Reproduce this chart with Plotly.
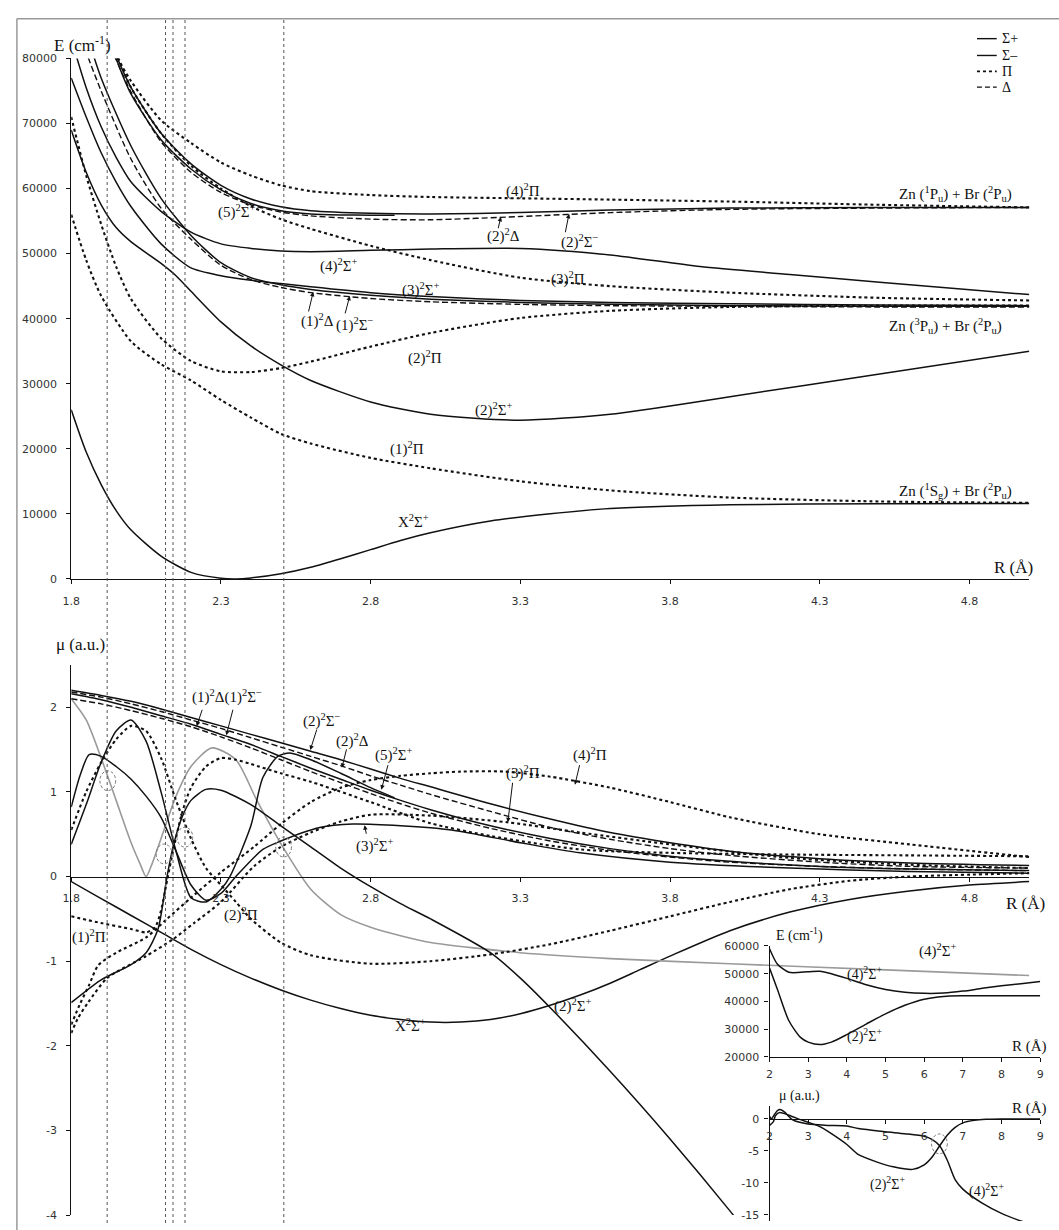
import plotly.graph_objects as go

W, H = 1059, 1230

def P(x, y):
    return x / W, 1 - y / H

# ================= DATA: upper panel, E (cm-1) vs R (Å) =================
R_X = [1.8, 1.85, 1.9, 1.95, 2.0, 2.1, 2.2, 2.3, 2.35, 2.4, 2.5, 2.6, 2.7, 2.8, 2.9, 3.0, 3.2, 3.4, 3.6, 4.0, 4.5, 5.0]
E_X = [26000, 19500, 14500, 10500, 7500, 3500, 1000, 100, 0, 150, 800, 1800, 3100, 4500, 5900, 7100, 8900, 10000, 10800, 11400, 11550, 11600]

R_1PI = [1.8, 1.85, 1.9, 2.0, 2.1, 2.2, 2.3, 2.4, 2.5, 2.6, 2.8, 3.0, 3.3, 3.6, 4.0, 4.5, 5.0]
E_1PI = [56000, 49000, 43500, 36500, 33000, 30500, 27500, 24800, 22300, 20800, 18600, 17000, 15000, 13600, 12500, 11900, 11700]

R_2PI = [1.8, 1.85, 1.9, 1.95, 2.0, 2.1, 2.2, 2.3, 2.4, 2.5, 2.6, 2.8, 3.0, 3.3, 3.6, 4.0, 4.5, 5.0]
E_2PI = [71000, 62000, 54500, 48000, 43000, 37000, 33500, 31900, 31800, 32400, 33400, 35700, 37800, 40100, 41200, 41800, 42000, 42000]

R_2SP = [1.8, 1.85, 1.9, 1.95, 2.0, 2.1, 2.15, 2.2, 2.3, 2.4, 2.5, 2.6, 2.8, 3.0, 3.3, 3.6, 4.0, 4.5, 5.0]
E_2SP = [69000, 62500, 57500, 54000, 51800, 48500, 46600, 44200, 39500, 35800, 32900, 30500, 27200, 25300, 24400, 25300, 28000, 31500, 35000]

R_3SP = [1.8, 1.85, 1.9, 1.95, 2.0, 2.1, 2.2, 2.3, 2.4, 2.5, 2.6, 2.8, 3.0, 3.3, 3.6, 4.0, 4.5, 5.0]
E_3SP = [77000, 71000, 65500, 61000, 57200, 51500, 47800, 46600, 45900, 45400, 44900, 44000, 43400, 42800, 42500, 42300, 42100, 42000]

R_4SP = [1.8, 1.85, 1.9, 1.95, 2.0, 2.1, 2.2, 2.3, 2.4, 2.5, 2.6, 2.8, 3.0, 3.3, 3.6, 3.9, 4.2, 4.5, 5.0]
E_4SP = [83000, 75500, 69500, 64800, 61000, 56500, 53300, 51500, 50800, 50400, 50300, 50500, 50700, 50800, 49800, 48000, 46800, 45600, 43700]

R_1SM = [1.85, 1.9, 2.0, 2.1, 2.2, 2.3, 2.4, 2.5, 2.6, 2.8, 3.0, 3.3, 3.6, 4.0, 4.5, 5.0]
E_1SM = [84000, 77000, 66500, 58500, 52800, 48600, 46300, 45200, 44500, 43600, 43000, 42500, 42200, 42000, 41900, 41900]

R_1D = [1.8, 1.85, 1.9, 2.0, 2.1, 2.2, 2.3, 2.4, 2.5, 2.6, 2.8, 3.0, 3.3, 3.6, 4.0, 4.5, 5.0]
E_1D = [88000, 81000, 75000, 64500, 57000, 52200, 48200, 46000, 44800, 44000, 43100, 42600, 42200, 42000, 41900, 41800, 41800]

R_5SP = [1.9, 1.95, 2.0, 2.1, 2.2, 2.3, 2.4, 2.5, 2.6, 2.7, 2.8, 2.88]
E_5SP = [87000, 80000, 74500, 67500, 63000, 59800, 57700, 56600, 56100, 55950, 55900, 55900]

R_2SM = [1.9, 1.95, 2.0, 2.1, 2.2, 2.3, 2.4, 2.5, 2.6, 2.8, 3.0, 3.3, 3.6, 4.0, 4.5, 5.0]
E_2SM = [86500, 80500, 75500, 68500, 63800, 60500, 58400, 57200, 56600, 56200, 56100, 56300, 56700, 57000, 57100, 57100]

R_2D = [1.9, 1.95, 2.0, 2.1, 2.2, 2.3, 2.4, 2.5, 2.6, 2.8, 3.0, 3.3, 3.6, 4.0, 4.5, 5.0]
E_2D = [85500, 79800, 74800, 67200, 62500, 59400, 57500, 56400, 55800, 55300, 55200, 55700, 56300, 56800, 57000, 57100]

R_3PI = [1.9, 1.95, 2.0, 2.1, 2.2, 2.3, 2.4, 2.5, 2.6, 2.8, 3.0, 3.3, 3.6, 4.0, 4.5, 5.0]
E_3PI = [88000, 81000, 75500, 68500, 63500, 60000, 57300, 55300, 53800, 51200, 49000, 46300, 45000, 44000, 43200, 42800]

R_4PI = [1.9, 1.95, 2.0, 2.1, 2.2, 2.3, 2.4, 2.5, 2.6, 2.8, 3.0, 3.3, 3.6, 4.0, 4.5, 5.0]
E_4PI = [86000, 80500, 76500, 70500, 67000, 64000, 62000, 60500, 59600, 59000, 58700, 58500, 58300, 58000, 57500, 57100]

# ================= DATA: lower panel, mu (a.u.) vs R (Å) =================
R_M2SM = [1.8, 1.9, 2.0, 2.1, 2.2, 2.3, 2.4, 2.5, 2.6, 2.7, 2.8, 2.9, 3.0, 3.2, 3.4, 3.6, 3.8, 4.0, 4.3, 4.6, 5.0]
M_2SM = [2.2, 2.14, 2.07, 1.98, 1.88, 1.78, 1.68, 1.58, 1.48, 1.38, 1.27, 1.16, 1.06, 0.86, 0.68, 0.52, 0.4, 0.3, 0.21, 0.16, 0.13]
M_2D = [2.18, 2.12, 2.04, 1.95, 1.85, 1.75, 1.64, 1.53, 1.42, 1.31, 1.19, 1.08, 0.97, 0.77, 0.58, 0.44, 0.33, 0.25, 0.17, 0.12, 0.1]
M_1SM = [2.16, 2.09, 2.0, 1.9, 1.8, 1.68, 1.56, 1.42, 1.28, 1.15, 1.02, 0.9, 0.79, 0.6, 0.45, 0.33, 0.24, 0.18, 0.12, 0.09, 0.07]
M_1D = [2.1, 2.04, 1.96, 1.87, 1.77, 1.65, 1.52, 1.38, 1.24, 1.11, 0.98, 0.86, 0.75, 0.57, 0.42, 0.31, 0.23, 0.17, 0.12, 0.09, 0.07]

R_M5SP = [1.8, 1.85, 1.9, 1.95, 2.0, 2.05, 2.1, 2.15, 2.2, 2.25, 2.3, 2.33, 2.4, 2.44, 2.49, 2.53, 2.6, 2.7, 2.8, 2.88]
M_5SP = [0.38, 0.85, 1.35, 1.72, 1.85, 1.6, 1.0, 0.3, -0.25, -0.3, -0.15, 0.0, 0.6, 1.17, 1.42, 1.46, 1.38, 1.22, 1.05, 0.93]

R_M3SP = [1.8, 1.83, 1.86, 1.9, 1.95, 2.0, 2.05, 2.1, 2.15, 2.2, 2.25, 2.3, 2.35, 2.44, 2.5, 2.63, 2.74, 2.9, 3.07, 3.3, 3.5, 3.8, 4.2, 4.6, 5.0]
M_3SP = [0.82, 1.2, 1.44, 1.42, 1.3, 1.15, 0.95, 0.7, 0.3, -0.1, -0.28, -0.2, 0.0, 0.32, 0.42, 0.58, 0.62, 0.6, 0.55, 0.4, 0.28, 0.17, 0.1, 0.06, 0.04]

R_M2SP = [1.8, 1.9, 2.0, 2.05, 2.09, 2.12, 2.14, 2.17, 2.2, 2.25, 2.3, 2.4, 2.5, 2.6, 2.7, 2.8, 2.9, 3.0, 3.2, 3.3, 3.4, 3.6, 3.8, 4.0, 4.1]
M_2SP = [-1.49, -1.22, -1.04, -0.9, -0.62, 0.0, 0.35, 0.7, 0.9, 1.03, 1.02, 0.85, 0.6, 0.35, 0.1, -0.12, -0.32, -0.5, -0.9, -1.2, -1.55, -2.3, -3.1, -3.95, -4.4]

R_MX = [1.8, 1.9, 2.0, 2.1, 2.2, 2.3, 2.4, 2.5, 2.6, 2.7, 2.8, 2.9, 3.0, 3.1, 3.2, 3.3, 3.4, 3.5, 3.6, 3.7, 3.8, 4.0, 4.2, 4.4, 4.6, 4.8, 5.0]
M_X = [-0.06, -0.26, -0.46, -0.66, -0.86, -1.04, -1.2, -1.34, -1.46, -1.56, -1.64, -1.69, -1.72, -1.72, -1.69, -1.62, -1.52, -1.4, -1.26, -1.1, -0.94, -0.64, -0.42, -0.27, -0.17, -0.1, -0.06]

R_M4SP = [1.8, 1.85, 1.9, 1.95, 2.0, 2.03, 2.05, 2.07, 2.1, 2.15, 2.2, 2.27, 2.35, 2.42, 2.51, 2.6, 2.7, 2.8, 2.9, 3.0, 3.3, 3.6, 4.0, 4.5, 5.0]
M_4SP = [2.1, 1.85, 1.4, 0.9, 0.4, 0.15, 0.0, 0.15, 0.45, 0.95, 1.3, 1.52, 1.38, 0.9, 0.33, -0.15, -0.45, -0.6, -0.7, -0.78, -0.9, -0.97, -1.03, -1.1, -1.17]

R_M1PI = [1.8, 1.9, 2.0, 2.05, 2.08, 2.1, 2.12, 2.14, 2.17, 2.2, 2.25, 2.3, 2.35, 2.4, 2.5, 2.6, 2.8, 3.0, 3.2, 3.5, 3.8, 4.2, 4.6, 5.0]
M_1PI = [-0.47, -0.55, -0.62, -0.66, -0.6, -0.4, -0.05, 0.3, 0.75, 1.05, 1.3, 1.4, 1.38, 1.33, 1.22, 1.12, 0.88, 0.63, 0.48, 0.32, 0.28, 0.26, 0.25, 0.24]

R_M2PI = [1.8, 1.85, 1.9, 1.95, 2.0, 2.05, 2.1, 2.15, 2.2, 2.25, 2.3, 2.35, 2.4, 2.5, 2.6, 2.8, 3.0, 3.2, 3.4, 3.6, 3.8, 4.0, 4.2, 4.4, 4.6, 5.0]
M_2PI = [0.55, 1.0, 1.35, 1.62, 1.78, 1.72, 1.4, 0.9, 0.45, 0.1, -0.1, -0.3, -0.5, -0.78, -0.93, -1.03, -1.0, -0.92, -0.8, -0.64, -0.47, -0.3, -0.15, -0.05, 0.0, 0.04]

R_M4PI = [1.8, 1.83, 1.86, 1.89, 1.95, 2.05, 2.12, 2.2, 2.3, 2.41, 2.5, 2.6, 2.7, 2.8, 2.9, 3.0, 3.1, 3.25, 3.4, 3.6, 3.8, 4.0, 4.3, 4.6, 5.0]
M_4PI = [-1.75, -1.5, -1.28, -1.05, -0.9, -0.72, -0.5, -0.25, 0.05, 0.35, 0.62, 0.88, 1.05, 1.14, 1.19, 1.22, 1.24, 1.24, 1.18, 1.05, 0.88, 0.7, 0.5, 0.38, 0.23]

R_M3PI = [1.8, 1.823, 1.856, 1.92, 2.05, 2.14, 2.21, 2.3, 2.41, 2.5, 2.6, 2.7, 2.8, 3.0, 3.26, 3.5, 3.8, 4.2, 4.6, 5.0]
M_3PI = [-1.85, -1.67, -1.49, -1.2, -0.94, -0.74, -0.55, -0.3, 0.12, 0.35, 0.52, 0.65, 0.73, 0.72, 0.64, 0.52, 0.38, 0.22, 0.14, 0.1]

# ================= DATA: insets (R 2–9 Å) =================
RI_E4 = [2.0, 2.2, 2.5, 3.0, 3.3, 3.6, 4.0, 4.5, 5.0, 5.5, 6.0, 6.5, 7.0, 7.5, 8.0, 8.5, 9.0]
EI_4 = [59000, 53500, 50500, 50700, 50900, 50000, 48300, 46000, 44300, 43300, 42900, 43000, 43700, 44700, 45600, 46400, 47200]
RI_E2 = [2.0, 2.2, 2.5, 2.8, 3.0, 3.3, 3.6, 4.0, 4.5, 5.0, 5.5, 6.0, 6.5, 7.0, 8.0, 9.0]
EI_2 = [52000, 44500, 33000, 27000, 25300, 24400, 25300, 28000, 31800, 35500, 38600, 40800, 41800, 42000, 42000, 42000]

RI_M2 = [2.0, 2.1, 2.15, 2.25, 2.5, 2.8, 3.0, 3.3, 3.6, 4.0, 4.3, 4.8, 5.2, 5.7, 6.0, 6.2, 6.4, 6.6, 6.8, 7.0, 7.3, 7.6, 8.0, 9.0]
MI_2 = [-1.0, -0.4, 0.5, 1.0, 0.6, -0.1, -0.5, -1.2, -2.3, -4.0, -5.6, -6.8, -7.5, -7.9, -7.2, -6.0, -4.2, -2.5, -1.3, -0.6, -0.2, -0.05, 0.0, 0.0]
RI_M4 = [2.0, 2.05, 2.1, 2.2, 2.27, 2.4, 2.5, 2.6, 3.0, 3.5, 4.0, 4.3, 5.0, 5.5, 6.0, 6.2, 6.4, 6.6, 6.8, 7.0, 7.5, 8.0, 8.5, 9.0]
MI_4 = [0.4, 0.0, 0.45, 1.3, 1.5, 1.05, 0.4, -0.15, -0.8, -1.0, -1.1, -1.5, -2.0, -2.3, -2.7, -3.2, -4.2, -6.5, -9.5, -11.0, -13.2, -14.8, -16.0, -17.0]

CROSS_R = [1.92, 2.115, 2.14, 2.18, 2.51]

X_TICKS = [1.8, 2.3, 2.8, 3.3, 3.8, 4.3, 4.8]
XI_TICKS = [2, 3, 4, 5, 6, 7, 8, 9]
MU_TICKS = [-4, -3, -2, -1, 0, 1, 2]
MUI_TICKS = [-15, -10, -5, 0]

# ================= FIGURE =================
BLK = "#111111"
GRY = "#9a9a9a"
SOL = dict(color=BLK, width=1.5)
DOT = dict(color=BLK, width=2.1, dash="dot")
DSH = dict(color=BLK, width=1.4, dash="6px,3px")

fig = go.Figure()

def add(x, y, line, xa, ya, name):
    fig.add_trace(go.Scatter(x=x, y=y, mode="lines", line=dict(shape="spline", smoothing=0.7, **line),
                             xaxis=xa, yaxis=ya, name=name, showlegend=False, hoverinfo="skip"))

# upper panel
add(R_X, E_X, SOL, "x", "y", "X2S+")
add(R_1PI, E_1PI, DOT, "x", "y", "(1)2Pi")
add(R_2PI, E_2PI, DOT, "x", "y", "(2)2Pi")
add(R_2SP, E_2SP, SOL, "x", "y", "(2)2S+")
add(R_3SP, E_3SP, SOL, "x", "y", "(3)2S+")
add(R_4SP, E_4SP, SOL, "x", "y", "(4)2S+")
add(R_1SM, E_1SM, SOL, "x", "y", "(1)2S-")
add(R_1D, E_1D, DSH, "x", "y", "(1)2D")
add(R_5SP, E_5SP, SOL, "x", "y", "(5)2S+")
add(R_2SM, E_2SM, SOL, "x", "y", "(2)2S-")
add(R_2D, E_2D, DSH, "x", "y", "(2)2D")
add(R_3PI, E_3PI, DOT, "x", "y", "(3)2Pi")
add(R_4PI, E_4PI, DOT, "x", "y", "(4)2Pi")

# lower panel
add(R_MX, M_X, SOL, "x2", "y2", "X2S+")
add(R_M4SP, M_4SP, dict(color=GRY, width=1.6), "x2", "y2", "(4)2S+")
add(R_M2SM, M_2SM, SOL, "x2", "y2", "(2)2S-")
add(R_M2SM, M_2D, DSH, "x2", "y2", "(2)2D")
add(R_M2SM, M_1SM, SOL, "x2", "y2", "(1)2S-")
add(R_M2SM, M_1D, DSH, "x2", "y2", "(1)2D")
add(R_M5SP, M_5SP, SOL, "x2", "y2", "(5)2S+")
add(R_M3SP, M_3SP, SOL, "x2", "y2", "(3)2S+")
add(R_M2SP, M_2SP, SOL, "x2", "y2", "(2)2S+")
add(R_M1PI, M_1PI, DOT, "x2", "y2", "(1)2Pi")
add(R_M2PI, M_2PI, DOT, "x2", "y2", "(2)2Pi")
add(R_M4PI, M_4PI, DOT, "x2", "y2", "(4)2Pi")
add(R_M3PI, M_3PI, DOT, "x2", "y2", "(3)2Pi")

# insets
add(RI_E4, EI_4, SOL, "x3", "y3", "(4)2S+")
add(RI_E2, EI_2, SOL, "x3", "y3", "(2)2S+")
add(RI_M2, MI_2, SOL, "x4", "y4", "(2)2S+")
add(RI_M4, MI_4, SOL, "x4", "y4", "(4)2S+")

TICKF = dict(family="DejaVu Sans", size=11, color="#333333")
AX = dict(showline=True, linecolor=BLK, linewidth=1.2, ticks="outside", ticklen=4, tickcolor=BLK,
          showgrid=False, zeroline=False, tickfont=TICKF)

xd = [63 / W, 1033 / W]
xid = [770 / W, 1044 / W]

fig.update_layout(
    width=W, height=H, margin=dict(l=0, r=0, t=0, b=0), autosize=False,
    paper_bgcolor="white", plot_bgcolor="rgba(0,0,0,0)", showlegend=False,
    xaxis=dict(domain=xd, range=[1.8, 5.0], tickvals=X_TICKS, ticktext=[f"{v:.1f}" for v in X_TICKS],
               anchor="y", ticklabelstandoff=8, **AX),
    yaxis=dict(domain=[1 - 579 / H, 1 - 53 / H], range=[0, 80000], dtick=10000, tickformat="d",
               anchor="x", ticklabelstandoff=7, **AX),
    xaxis2=dict(domain=xd, range=[1.8, 5.0], tickvals=X_TICKS, ticktext=[f"{v:.1f}" for v in X_TICKS],
                anchor="free", position=1 - 880 / H, ticklabelstandoff=7, **AX),
    yaxis2=dict(domain=[1 - 1222 / H, 1 - 666 / H], range=[-4, 2.5], tickvals=MU_TICKS,
                ticktext=[str(v) for v in MU_TICKS], anchor="x2", ticklabelstandoff=7, **AX),
    xaxis3=dict(domain=xid, range=[2, 9], tickvals=XI_TICKS, anchor="y3", ticklabelstandoff=3, **AX),
    yaxis3=dict(domain=[1 - 1062 / H, 1 - 950 / H], range=[20000, 60000], dtick=10000, tickformat="d",
                anchor="x3", ticklabelstandoff=3, **AX),
    xaxis4=dict(domain=xid, range=[2, 9], tickvals=XI_TICKS, anchor="free", position=1 - 1125 / H,
                ticklabelstandoff=3, **AX),
    yaxis4=dict(domain=[1 - 1228 / H, 1 - 1112 / H], range=[-16, 2], tickvals=MUI_TICKS,
                ticktext=[str(v) for v in MUI_TICKS], anchor="x4", ticklabelstandoff=3, **AX),
)

shapes = []
# frame (left & top)
shapes.append(dict(type="line", xref="paper", yref="paper", x0=8 / W, x1=1.01, y0=1 - 13 / H, y1=1 - 13 / H,
                   line=dict(color="#999999", width=1.5)))
shapes.append(dict(type="line", xref="paper", yref="paper", x0=8 / W, x1=8 / W, y0=-0.01, y1=1 - 13 / H,
                   line=dict(color="#999999", width=1.5)))
# crossing verticals
for r in CROSS_R:
    shapes.append(dict(type="line", xref="x", yref="paper", x0=r, x1=r, y0=0, y1=1 - 13 / H,
                       line=dict(color="#555555", width=1, dash="3px,3px")))
# dashed crossing circles
for cx, cy in [(100, 783), (157, 857), (178, 840), (278, 850), (942, 1150)]:
    x0, y0 = P(cx - 8, cy - 10)
    x1, y1 = P(cx + 8, cy + 10)
    shapes.append(dict(type="circle", xref="paper", yref="paper", x0=x0, x1=x1, y0=y1, y1=y0,
                       line=dict(color="#777777", width=1, dash="3px,2px")))
# legend lines
for yy, dsh in [(33, "solid"), (50, "solid"), (66, "dot"), (82, "5px,3px")]:
    a, b = P(980, yy)
    c, _ = P(1000, yy)
    shapes.append(dict(type="line", xref="paper", yref="paper", x0=a, x1=c, y0=b, y1=b,
                       line=dict(color=BLK, width=1.4 if dsh != "dot" else 1.8, dash=dsh)))
fig.update_layout(shapes=shapes)

SER = "Liberation Serif"
anns = []

def T(x, y, text, size=15, anchor="center", color=BLK):
    px_, py_ = P(x, y)
    anns.append(dict(x=px_, y=py_, xref="paper", yref="paper", text=text, showarrow=False,
                     xanchor=anchor, yanchor="middle", font=dict(family=SER, size=size, color=color)))

def A(tip, tail):
    px_, py_ = P(*tip)
    anns.append(dict(x=px_, y=py_, xref="paper", yref="paper", text="", showarrow=True,
                     ax=tail[0] - tip[0], ay=tail[1] - tip[1], arrowhead=2, arrowsize=0.9,
                     arrowwidth=1, arrowcolor=BLK, standoff=0))

S2 = "<sup>2</sup>"
SP = "Σ<sup>+</sup>"
SM = "Σ<sup>−</sup>"

# axis titles
T(74, 38, "E (cm<sup>-1</sup>)", 17)
T(72, 645, "μ (a.u.)", 17)
T(1017, 567, "R (Å)", 17)
T(1029, 907, "R (Å)", 17)

# legend text
T(1003, 33, "Σ+", 14, "left")
T(1003, 50, "Σ–", 14, "left")
T(1003, 66, "Π", 14, "left")
T(1003, 82, "Δ", 14, "left")

# upper panel labels
T(958, 190, "Zn (<sup>1</sup>P<sub>u</sub>) + Br (<sup>2</sup>P<sub>u</sub>)", 15)
T(948, 323, "Zn (<sup>3</sup>P<sub>u</sub>) + Br (<sup>2</sup>P<sub>u</sub>)", 15)
T(958, 490, "Zn (<sup>1</sup>S<sub>g</sub>) + Br (<sup>2</sup>P<sub>u</sub>)", 15)
T(520, 186, "(4)" + S2 + "Π")
T(230, 208, "(5)" + S2 + SP)
T(501, 232, "(2)" + S2 + "Δ")
T(578, 238, "(2)" + S2 + SM)
T(334, 262, "(4)" + S2 + SP)
T(566, 275, "(3)" + S2 + "Π")
T(417, 287, "(3)" + S2 + SP)
T(312, 318, "(1)" + S2 + "Δ")
T(350, 322, "(1)" + S2 + SM)
T(421, 355, "(2)" + S2 + "Π")
T(491, 408, "(2)" + S2 + SP)
T(403, 447, "(1)" + S2 + "Π")
T(410, 520, "X" + S2 + SP)
A((498, 213), (495, 226))
A((567, 210), (563, 230))
A((308, 289), (303, 310))
A((345, 293), (340, 312))

# lower panel labels
T(221, 698, "(1)" + S2 + "Δ(1)" + S2 + SM)
T(316, 722, "(2)" + S2 + SM)
T(348, 742, "(2)" + S2 + "Δ")
T(389, 757, "(5)" + S2 + SP)
T(588, 757, "(4)" + S2 + "Π")
T(520, 775, "(3)" + S2 + "Π")
T(370, 848, "(3)" + S2 + SP)
T(81, 940, "(1)" + S2 + "Π")
T(235, 918, "(2)" + S2 + "Π")
T(406, 1030, "X" + S2 + SP)
T(940, 955, "(4)" + S2 + SP)
T(571, 1010, "(2)" + S2 + SP)
A((190, 728), (196, 710))
A((220, 737), (227, 710))
A((305, 752), (312, 730))
A((337, 770), (342, 750))
A((377, 792), (384, 766))
A((573, 787), (578, 766))
A((505, 825), (510, 784))
A((360, 828), (362, 838))

# inset labels
T(800, 938, "E (cm<sup>-1</sup>)", 14)
T(1033, 1052, "R (Å)", 15)
T(866, 978, "(4)" + S2 + SP, 14)
T(866, 1040, "(2)" + S2 + SP, 14)
T(800, 1102, "μ (a.u.)", 14)
T(1033, 1114, "R (Å)", 15)
T(889, 1190, "(2)" + S2 + SP, 14)
T(990, 1197, "(4)" + S2 + SP, 14)

fig.update_layout(annotations=anns)
fig.write_html("out.html", config={"displayModeBar": False},
               post_script="document.body.style.margin='0';document.body.style.overflow='hidden';")
